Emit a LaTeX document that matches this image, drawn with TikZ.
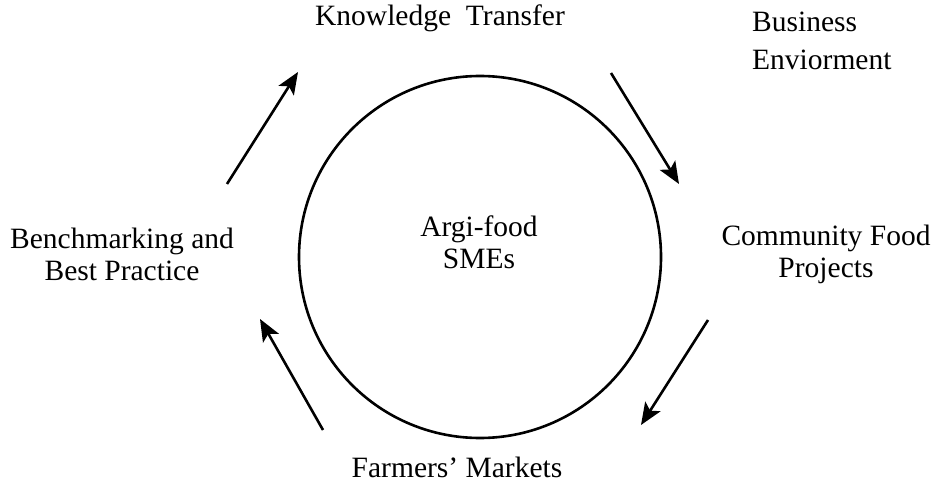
\documentclass[tikz,border=0pt]{standalone}
\usepackage{fontspec}
\setmainfont{Liberation Serif}
\usetikzlibrary{arrows.meta}

\begin{document}
\begin{tikzpicture}[x=1pt, y=-1pt,
  lbl/.style={align=center, inner sep=0pt, font=\fontsize{29.5}{32}\selectfont},
  flow/.style={line width=2.6pt, -{Stealth[length=22pt, width=18pt, inset=5pt]}}]
\useasboundingbox (0,0) rectangle (936,486);
\node[draw, circle, line width=2.6pt, minimum size=362pt, inner sep=0pt] (smes) at (480,257) {};
\node[lbl] (core) at (479,242) {Argi-food\\SMEs};
\node[lbl] (know) at (440,18) {Knowledge\ \ Transfer};
\node[lbl, align=left, anchor=west] (env) at (752,41) {Business\\[6pt]Enviorment};
\node[lbl] (cfp) at (826,254) {Community Food\\Projects};
\node[lbl] (farm) at (457,467) {Farmers' Markets};
\node[lbl] (bench) at (122,254) {Benchmarking and\\Best Practice};
% arrow ends
\coordinate (a1) at (227,184);
\coordinate (b1) at (298,72);
\coordinate (a2) at (611,73);
\coordinate (b2) at (679,184);
\coordinate (a3) at (708,320);
\coordinate (b3) at (641,425);
\coordinate (a4) at (323,430);
\coordinate (b4) at (260,319);
\draw[flow] (a1) -- (b1);
\draw[flow] (a2) -- (b2);
\draw[flow] (a3) -- (b3);
\draw[flow] (a4) -- (b4);
\end{tikzpicture}
\end{document}
